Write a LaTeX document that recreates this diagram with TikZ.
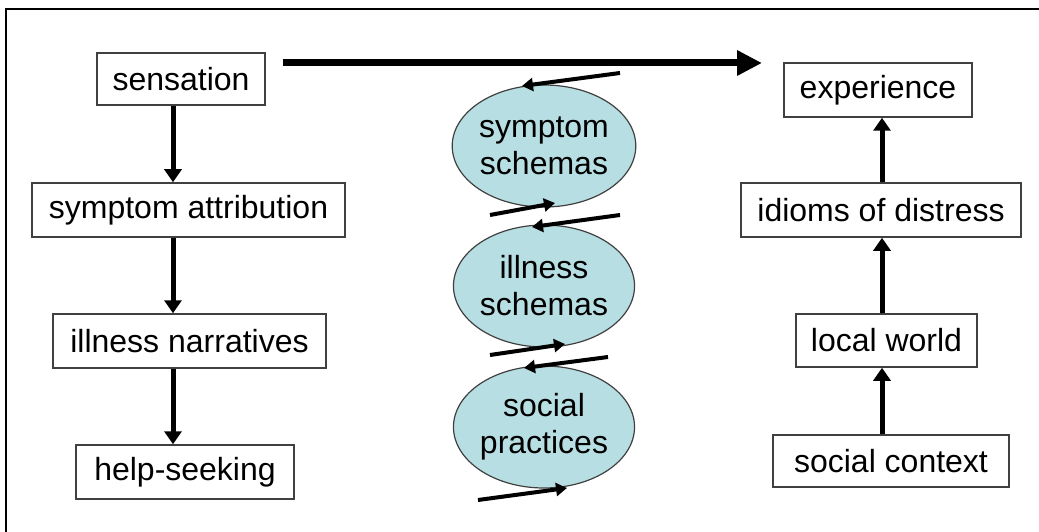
\documentclass[tikz,border=0pt]{standalone}
\usepackage{fontspec}
\setmainfont{Liberation Sans}
\usetikzlibrary{shapes.geometric,arrows.meta}
\definecolor{boxline}{RGB}{64,64,64}
\definecolor{schemafill}{RGB}{183,222,226}
\tikzset{
  box/.style={draw=boxline, line width=1.5pt, fill=white, rectangle, inner sep=0pt, font=\fontsize{32}{37}\selectfont},
  schema/.style={draw=boxline, line width=1.2pt, fill=schemafill, ellipse, inner sep=0pt, minimum width=177pt, minimum height=122pt, align=center, font=\fontsize{32}{37}\selectfont},
  flow/.style={line width=5pt, -{Triangle[length=13pt,width=17pt]}},
  bigflow/.style={line width=7pt, -{Triangle[length=25pt,width=24pt]}},
  loop/.style={line width=4pt, -{Triangle[length=11pt,width=13pt]}}
}
\begin{document}
\begin{tikzpicture}[x=1pt,y=-1pt]
\useasboundingbox (0,0) rectangle (1039,532);
% frame (only top and left edges are visible)
\draw[line width=2.5pt] (6,545) -- (6,9) -- (1050,9);

% left column
\node[box, minimum width=168pt, minimum height=52pt] (sens) at (181,79) {sensation};
\node[box, minimum width=313pt, minimum height=54pt] (attr) at (188.5,210) {symptom attribution};
\node[box, minimum width=273pt, minimum height=54pt] (narr) at (189.5,341) {illness narratives};
\node[box, minimum width=218pt, minimum height=54pt] (help) at (185,472) {help-seeking};
\coordinate (lx) at (173,0);
\draw[flow] (sens.south -| lx) -- (attr.north -| lx);
\draw[flow] (attr.south -| lx) -- (narr.north -| lx);
\draw[flow] (narr.south -| lx) -- (help.north -| lx);

% right column
\node[box, minimum width=188pt, minimum height=54pt] (exp) at (878,90) {experience};
\node[box, minimum width=280pt, minimum height=54pt] (idio) at (881,210) {idioms of distress};
\node[box, minimum width=181pt, minimum height=53pt] (local) at (886.5,340.5) {local world};
\node[box, minimum width=236pt, minimum height=52pt] (soc) at (891,461) {social context};
\coordinate (rx) at (882,0);
\draw[flow] (soc.north -| rx) -- (local.south -| rx);
\draw[flow] (local.north -| rx) -- (idio.south -| rx);
\draw[flow] (idio.north -| rx) -- (exp.south -| rx);

% big arrow
\coordinate (bigstart) at (283,63);
\coordinate (bigend) at (762,63);
\draw[bigflow] (bigstart) -- (bigend);

% schemas
\node[schema] (ss) at (544,146) {symptom\\schemas};
\node[schema] (is) at (544,286) {illness\\schemas};
\node[schema] (sp) at (544,427) {social\\practices};

% small loop arrows
\coordinate (a1s) at (620,73);  \coordinate (a1e) at (522,86);
\coordinate (a2s) at (490,215); \coordinate (a2e) at (555,203);
\coordinate (a3s) at (620,215); \coordinate (a3e) at (532,227);
\coordinate (a4s) at (490,355); \coordinate (a4e) at (565,344);
\coordinate (a5s) at (608,357); \coordinate (a5e) at (524,368);
\coordinate (a6s) at (478,500); \coordinate (a6e) at (567,488);
\draw[loop] (a1s) -- (a1e);
\draw[loop] (a2s) -- (a2e);
\draw[loop] (a3s) -- (a3e);
\draw[loop] (a4s) -- (a4e);
\draw[loop] (a5s) -- (a5e);
\draw[loop] (a6s) -- (a6e);
\end{tikzpicture}
\end{document}
